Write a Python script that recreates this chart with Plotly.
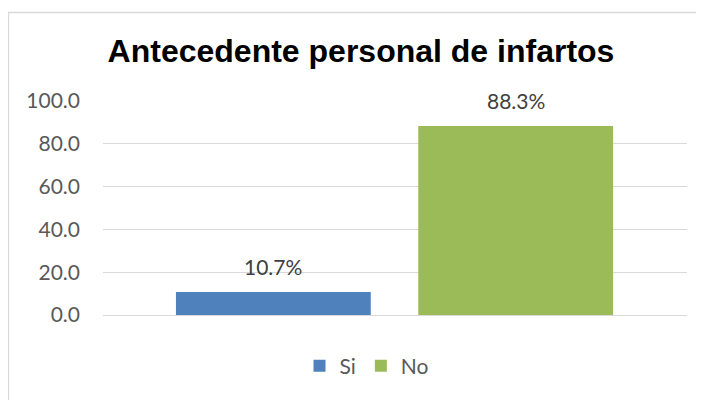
import plotly.graph_objects as go

categories = ["Si", "No"]
values = [10.7, 88.3]
colors = ["#4F81BD", "#9BBB59"]
y_ticks = [0, 20, 40, 60, 80, 100]
y_ticklabels = ["0.0", "20.0", "40.0", "60.0", "80.0", "100.0"]
title_text = "Antecedente personal de infartos"

# the page shows the figure offset by the default 8px body margin
OFF = 8
W, H = 704, 400
L, R, T, B = 103 - OFF, 704 - 687 + OFF, 101 - OFF, 85 + OFF
pw = W - L - R
ph = H - T - B
base = H - B  # figure px of y=0

fig = go.Figure()
for cat, val, col in zip(categories, values, colors):
    fig.add_trace(go.Bar(
        x=[cat], y=[val], name=cat,
        marker=dict(color=col, line=dict(width=0)),
        width=0.804,
    ))
    fig.add_annotation(
        x=cat, y=val, xref="x", yref="y",
        text=f"{val:.1f}%", showarrow=False,
        yanchor="bottom", yshift=11,
        font=dict(family="Lato", size=21, color="#404040"),
    )

fig.update_layout(
    width=W, height=H,
    margin=dict(l=L, r=R, t=T, b=B, pad=0),
    paper_bgcolor="white", plot_bgcolor="white",
    barmode="overlay",
    showlegend=True,
    title=dict(
        text=title_text, x=(361 - OFF) / W, xanchor="center",
        y=1 - (51 - OFF) / H, yanchor="middle", yref="container",
        font=dict(family="Liberation Sans", size=32, color="black", weight="bold"),
    ),
    xaxis=dict(
        type="category", range=[-0.703, 1.707],
        showticklabels=False, showgrid=False, zeroline=False, showline=False, ticks="",
    ),
    yaxis=dict(
        range=[0, 100], tickvals=y_ticks, ticktext=y_ticklabels,
        showgrid=True, gridcolor="#D9D9D9", gridwidth=1.3,
        zeroline=True, zerolinecolor="#D9D9D9", zerolinewidth=1.3,
        showline=False, ticks="", ticklabelstandoff=22,
        tickfont=dict(family="Lato", size=21, color="#595959"),
    ),
    legend=dict(
        orientation="h", x=(367 - OFF - L) / pw, xanchor="center",
        y=(base - (366 - OFF)) / ph, yanchor="middle",
        font=dict(family="Lato", size=21, color="#595959"),
        itemclick=False, traceorder="normal",
    ),
    shapes=[dict(
        type="rect", xref="paper", yref="paper",
        x0=(8.5 - OFF - L) / pw, x1=(730 - L) / pw,
        y0=(base - 430) / ph, y1=(base - (12.5 - OFF)) / ph,
        line=dict(color="#D9D9D9", width=1.3), fillcolor="rgba(0,0,0,0)",
        layer="below",
    )],
)

fig.write_html("out.html")
